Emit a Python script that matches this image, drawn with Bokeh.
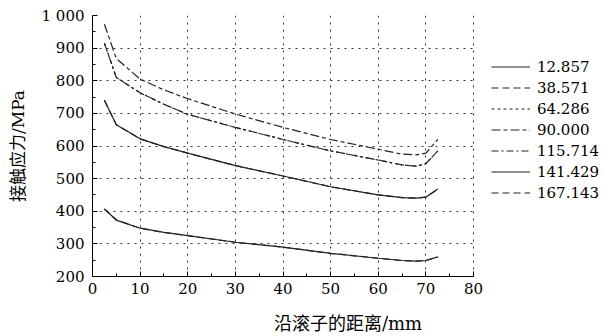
from bokeh.plotting import figure
from bokeh.models import Legend, LegendItem, Range1d, FixedTicker
from bokeh.embed import file_html
from bokeh.resources import INLINE

# distance along roller (mm)
x = [2.5, 5, 10, 15, 20, 30, 40, 50, 60, 65, 68, 70, 72.5]

# contact stress (MPa) for each angular position (deg)
s_12857 = [407, 373, 348, 335, 325, 305, 290, 271, 256, 249, 247, 249, 260]
s_38571 = [740, 665, 622, 598, 578, 540, 508, 475, 450, 442, 440, 443, 468]
s_64286 = [915, 810, 763, 728, 697, 657, 620, 585, 557, 542, 538, 546, 585]
s_90000 = [973, 868, 805, 772, 745, 698, 657, 620, 590, 575, 573, 578, 620]
s_115714 = [915, 810, 763, 728, 697, 657, 620, 585, 557, 542, 538, 546, 585]
s_141429 = [740, 665, 622, 598, 578, 540, 508, 475, 450, 442, 440, 443, 468]
s_167143 = [407, 373, 348, 335, 325, 305, 290, 271, 256, 249, 247, 249, 260]

labels = ["12.857", "38.571", "64.286", "90.000", "115.714", "141.429", "167.143"]
series = [s_12857, s_38571, s_64286, s_90000, s_115714, s_141429, s_167143]
dashes = ["solid", "7 4", "3 3", "9 3 4 3", "7 3 2 3", "solid", "7 4"]

x_ticks = [0, 10, 20, 30, 40, 50, 60, 70, 80]
y_ticks = [200, 300, 400, 500, 600, 700, 800, 900, 1000]

SERIF = "DejaVu Serif"
MIXED = "DejaVu Serif, Noto Sans CJK SC"

W, H = 603, 336
LEFT, TOP, BOTTOM = 92, 15, 55
frame_w = W - LEFT
x_view_max = 80 * frame_w / 381.0   # axis 0..80 occupies 381 px; rest holds legend

p = figure(width=W, height=H, output_backend="svg", toolbar_location=None,
           x_range=Range1d(0, x_view_max), y_range=Range1d(200, 1000),
           min_border_left=LEFT, min_border_right=0, min_border_top=TOP,
           min_border_bottom=BOTTOM)
p.outline_line_color = None
p.background_fill_color = "white"
p.border_fill_color = "white"

col = "#222222"
order = [6, 1, 2, 4, 3, 5, 0]
renderers = {}
for i in order:
    r = p.line(x, series[i], line_color=col, line_width=1.2, line_dash=dashes[i])
    renderers[i] = r

items = [LegendItem(label=labels[i], renderers=[renderers[i]]) for i in range(7)]
legend = Legend(items=items, location=(399, 73), orientation="vertical",
                glyph_width=39, glyph_height=21, label_height=21, spacing=0,
                padding=0, margin=0, label_standoff=7,
                label_text_font=SERIF, label_text_font_size="15px",
                label_text_color="black",
                border_line_color=None, background_fill_alpha=0)
p.add_layout(legend, "center")

for ax in (p.xaxis[0], p.yaxis[0]):
    ax.axis_line_color = "black"
    ax.axis_line_width = 1
    ax.major_tick_in = 5
    ax.major_tick_out = 0
    ax.minor_tick_in = 3
    ax.minor_tick_out = 0
    ax.major_tick_line_color = "black"
    ax.minor_tick_line_color = "black"
    ax.major_label_text_font = SERIF
    ax.major_label_text_font_size = "15px"
    ax.major_label_text_color = "black"
    ax.axis_label_text_font = MIXED
    ax.axis_label_text_font_style = "normal"
    ax.axis_label_text_color = "black"

p.xaxis.axis_label_text_font_size = "18px"
p.yaxis.axis_label_text_font_size = "17px"
p.xaxis.bounds = (0, 80)
p.xaxis.ticker = FixedTicker(ticks=x_ticks, minor_ticks=[v + 5 for v in x_ticks[:-1]])
p.yaxis.ticker = FixedTicker(ticks=y_ticks, minor_ticks=[v + 50 for v in y_ticks[:-1]])
p.yaxis.major_label_overrides = {1000: "1 000"}
p.xaxis.major_label_standoff = 6
p.yaxis.major_label_standoff = 8
p.xaxis.axis_label = "沿滚子的距离/mm"
p.yaxis.axis_label = "接触应力/MPa"
p.xaxis.axis_label_standoff = 16
p.yaxis.axis_label_standoff = 11

p.xgrid.ticker = FixedTicker(ticks=x_ticks)
p.ygrid.ticker = FixedTicker(ticks=y_ticks)
p.xgrid.bounds = (0, 80)
p.ygrid.cross_bounds = (0, 80)
p.grid.grid_line_color = "#333333"
p.grid.grid_line_dash = "2 5"
p.grid.grid_line_width = 1

open("out.html", "w").write(file_html(p, INLINE))
